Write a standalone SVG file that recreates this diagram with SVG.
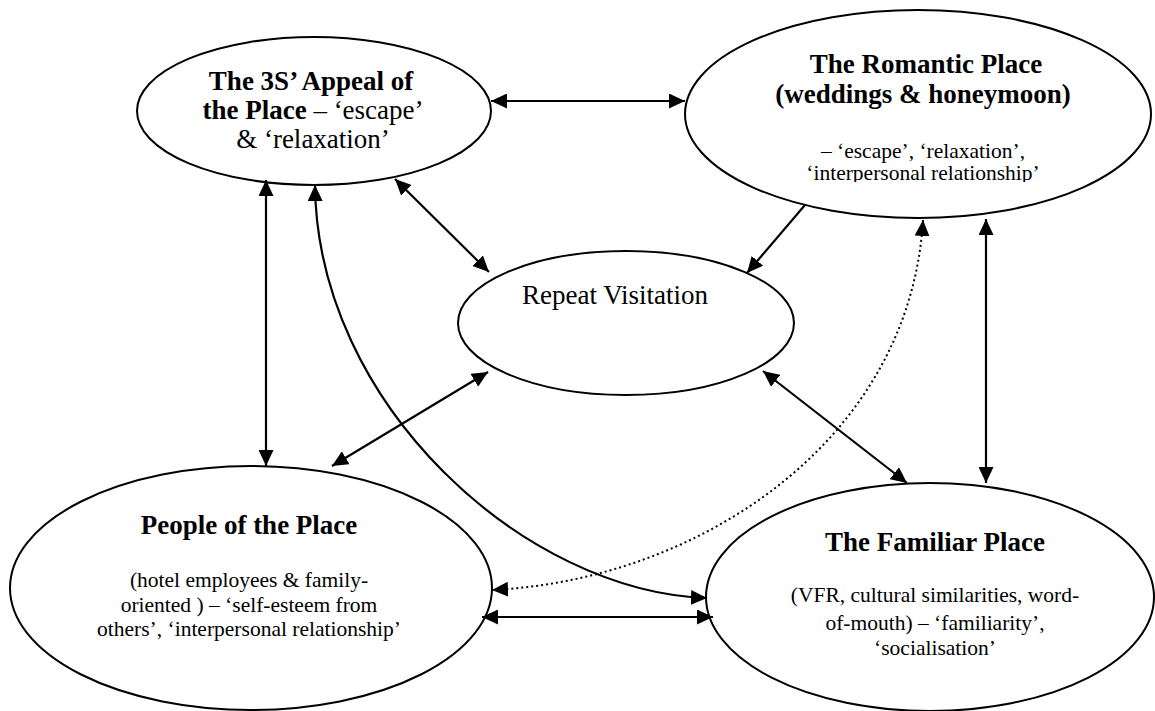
<svg xmlns="http://www.w3.org/2000/svg" width="1155" height="711" viewBox="0 0 1155 711">
<style>
.node{fill:#fff;stroke:#000;stroke-width:2}
.t{font-family:"Liberation Serif","Times New Roman",serif;fill:#000;text-anchor:middle}
.b{font-weight:bold;font-size:27px}
.r26{font-size:27px}
.s{font-size:21.5px}
.c{fill:none;stroke:#000;stroke-width:2.2}
.dot{fill:none;stroke:#000;stroke-width:2;stroke-dasharray:2 3}
</style>
<defs>
<marker id="ah" markerUnits="userSpaceOnUse" markerWidth="17" markerHeight="15" refX="16" refY="7.5" orient="auto-start-reverse" viewBox="0 0 17 15">
<path d="M0,0 L16,7.5 L0,15 z" fill="#000"/>
</marker>
<clipPath id="clipTR"><rect x="680" y="0" width="475" height="182"/></clipPath>
</defs>
<rect width="1155" height="711" fill="#fff"/>
<g id="n-appeal">
<ellipse class="node" cx="314" cy="111" rx="177" ry="74"/>
<text class="t b" x="311" y="90">The 3S’ Appeal of</text>
<text class="t r26" x="313" y="119"><tspan font-weight="bold">the Place</tspan> – ‘escape’</text>
<text class="t r26" x="313" y="148">&amp; ‘relaxation’</text>
</g>
<g id="n-romantic">
<ellipse class="node" cx="918" cy="114" rx="233" ry="104"/>
<text class="t b" x="926" y="73">The Romantic Place</text>
<text class="t b" x="923" y="103">(weddings &amp; honeymoon)</text>
<text class="t s" x="923" y="158">– ‘escape’, ‘relaxation’,</text>
<text class="t s" x="923" y="180" clip-path="url(#clipTR)">‘interpersonal relationship’</text>
</g>
<g id="n-repeat">
<ellipse class="node" cx="626" cy="323" rx="168" ry="72"/>
<text class="t r26" x="615" y="304">Repeat Visitation</text>
</g>
<g id="n-people">
<ellipse class="node" cx="251" cy="588" rx="241" ry="122"/>
<text class="t b" x="249" y="534">People of the Place</text>
<text class="t s" x="249" y="587">(hotel employees &amp; family-</text>
<text class="t s" x="249" y="612">oriented ) – ‘self-esteem from</text>
<text class="t s" x="249" y="636">others’, ‘interpersonal relationship’</text>
</g>
<g id="n-familiar">
<ellipse class="node" cx="930" cy="597" rx="224" ry="114"/>
<text class="t b" x="935" y="551">The Familiar Place</text>
<text class="t s" x="935" y="602">(VFR, cultural similarities, word-</text>
<text class="t s" x="935" y="630">of-mouth) – ‘familiarity’,</text>
<text class="t s" x="935" y="655">‘socialisation’</text>
</g>
<g id="connectors">
<line class="c" x1="491" y1="101" x2="685" y2="101" marker-start="url(#ah)" marker-end="url(#ah)"/>
<line class="c" x1="266" y1="180" x2="266" y2="466" marker-start="url(#ah)" marker-end="url(#ah)"/>
<path class="c" d="M315,185 C317,405 525,592 707,598" marker-start="url(#ah)" marker-end="url(#ah)"/>
<line class="c" x1="395" y1="179" x2="489" y2="272" marker-start="url(#ah)" marker-end="url(#ah)"/>
<line class="c" x1="805" y1="205" x2="747" y2="273" marker-end="url(#ah)"/>
<path class="dot" d="M923,220 C910,440 700,580 492,590" marker-start="url(#ah)" marker-end="url(#ah)"/>
<line class="c" x1="986" y1="219" x2="986" y2="483" marker-start="url(#ah)" marker-end="url(#ah)"/>
<line class="c" x1="763" y1="371" x2="907" y2="483" marker-start="url(#ah)" marker-end="url(#ah)"/>
<line class="c" x1="488" y1="372" x2="332" y2="466" marker-start="url(#ah)" marker-end="url(#ah)"/>
<line class="c" x1="482" y1="617" x2="713" y2="617" marker-start="url(#ah)" marker-end="url(#ah)"/>
</g>
</svg>
